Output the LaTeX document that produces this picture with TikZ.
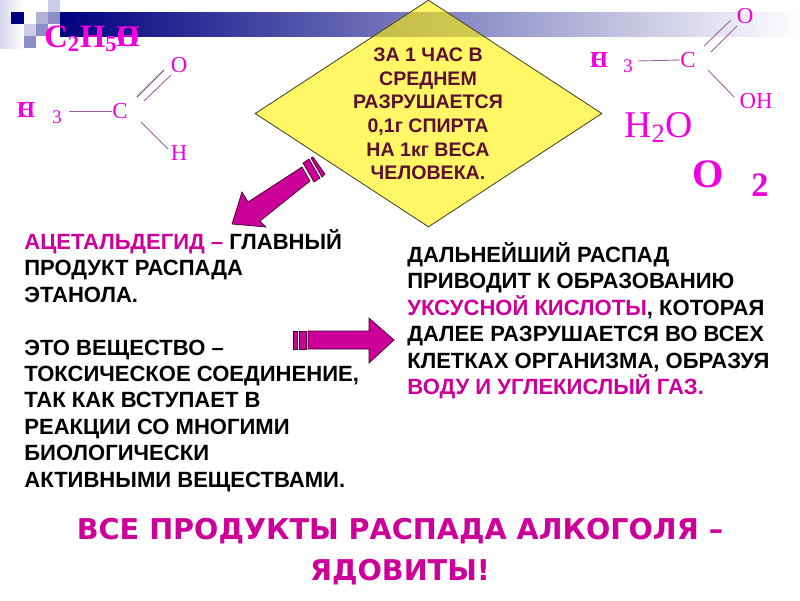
\documentclass[tikz,border=0pt]{standalone}
\usepackage{fontspec}
\usepackage{xcolor}
\usetikzlibrary{arrows.meta, positioning, shapes.geometric}
\setmainfont{Liberation Sans}
\newfontfamily\chemfont{Liberation Serif}
\newfontfamily\widefont{DejaVu Sans}
\definecolor{barnavy}{HTML}{000080}
\definecolor{pinkchem}{HTML}{F000E0}
\definecolor{arrowpink}{HTML}{CC0099}
\definecolor{rulemaroon}{HTML}{5C0F2E}
\definecolor{bondpurple}{HTML}{A060A0}
\begin{document}
\begin{tikzpicture}[x=0.02cm, y=-0.02cm,
    txtblock/.style={anchor=north west, align=left, inner sep=0pt,
                     font=\fontsize{12.55pt}{15.05pt}\selectfont\bfseries, text=black},
    chem/.style={inner sep=0pt, text=pinkchem, font=\fontsize{13pt}{13pt}\selectfont\chemfont},
    chembold/.style={chem, font=\fontsize{13pt}{13pt}\selectfont\chemfont\bfseries},
    bondline/.style={draw=bondpurple, line width=0.5pt},
    pale/.style={fill=barnavy!20},
    mid/.style={fill=barnavy!30},
    darker/.style={fill=barnavy!45},
    bigarrow/.style={fill=arrowpink, draw=black!70!arrowpink, line width=0.4pt}
  ]
  \useasboundingbox (0,0) rectangle (800,600);

  % Title bar and squares
  \shade[left color=barnavy, right color=white] (60,12) rectangle (800,36);
  \shade[left color=barnavy!15, right color=white] (0,0) rectangle (24,48);
  \fill[barnavy] (11,12) rectangle (24,24);
  \fill[mid] (36,12) rectangle (48,24);
  \fill[pale] (48,0) rectangle (60,12);
  \fill[darker] (48,12) rectangle (60,24);
  \fill[pale] (24,24) rectangle (36,36);
  \fill[darker] (36,24) rectangle (48,36);
  \fill[darker] (24,36) rectangle (36,48);

  % Ethanol
  \node[chembold, anchor=base west, font=\fontsize{18.5pt}{18.5pt}\selectfont\chemfont\bfseries] (ethanol) at (44,47) {C\textsubscript{2}H\textsubscript{5}};
  \node[chembold, font=\fontsize{17pt}{17pt}\selectfont\chemfont\bfseries] (ethanolo) at (128,37) {O};
  \node[chembold, font=\fontsize{17pt}{17pt}\selectfont\chemfont\bfseries] (ethanolh) at (128,37) {H};

  % Acetaldehyde
  \node[chembold] (cleftover) at (26,110) {C};
  \node[chembold] (hleft) at (26,110) {H};
  \node[chem, font=\fontsize{11pt}{11pt}\selectfont\chemfont] (threeleft) at (57,117) {3};
  \node[chem] (cleft) at (120,111) {C};
  \node[chem] (oleft) at (179,65) {O};
  \node[chem] (hlow) at (179,153) {H};
  \draw[bondline] (threeleft.east) ++(7,-6) -- (cleft.west);
  \draw[bondline, draw=bondpurple!60!black] (137,97) -- (164,70);
  \draw[bondline] (144,101) -- (171,75);
  \draw[bondline] (141,122) -- (168,149);

  % Acetic acid
  \node[chembold] (crightover) at (599,60) {C};
  \node[chembold] (hright) at (599,60) {H};
  \node[chem, font=\fontsize{11pt}{11pt}\selectfont\chemfont] (threeright) at (628,66) {3};
  \node[chem] (cright) at (688,60) {C};
  \node[chem] (oright) at (745,16) {O};
  \node[chem] (ohright) at (756,101) {OH};
  \draw[bondline] (threeright.east) ++(5,-5) -- (cright.west);
  \draw[bondline] (704,46) -- (731,20);
  \draw[bondline] (711,52) -- (737,26);
  \draw[bondline] (708,70) -- (734,97);

  % Water and oxygen
  \node[chem, anchor=base west, font=\fontsize{21.5pt}{21.5pt}\selectfont\chemfont] (water) at (624,137) {H\textsubscript{2}O};
  \node[chem, anchor=base, font=\fontsize{23pt}{23pt}\selectfont\chemfont\bfseries] (oxy) at (708,187) {O};
  \node[chem, anchor=base, font=\fontsize{19.5pt}{19.5pt}\selectfont\chemfont\bfseries] (oxytwo) at (760,196) {2};

  % Diamond
  \node[diamond, draw=black!60!olive, fill=yellow, fill opacity=0.6, line width=0.5pt,
        minimum width=6.94cm, minimum height=4.54cm, inner sep=0pt, aspect=1.53] (rule) at (428.5,113.5) {};
  \node[inner sep=0pt, align=center, font=\fontsize{11.15pt}{13.4pt}\selectfont\bfseries, text=rulemaroon] (ruletext) at (428,114)
    {ЗА 1 ЧАС В\\СРЕДНЕМ\\РАЗРУШАЕТСЯ\\0,1г СПИРТА\\НА 1кг ВЕСА\\ЧЕЛОВЕКА.};

  % Arrows
  \draw[bigarrow] (302,167) -- (248,202) -- (242,192) -- (232,224) -- (266,227) -- (260,221) -- (310,181) -- cycle;
  \draw[bigarrow] (303,163) -- (309,159) -- (320,178) -- (314,182) -- cycle;
  \draw[bigarrow] (311,158) -- (313,157) -- (325,174) -- (322,177) -- cycle;
  \draw[bigarrow] (308,331) -- (369,331) -- (369,318) -- (394,340) -- (369,363) -- (369,349) -- (308,349) -- cycle;
  \draw[bigarrow] (293,331) rectangle (297,349);
  \draw[bigarrow] (299,331) rectangle (306,349);

  % Text blocks
  \node[txtblock] (acet) at (24,229) {\textcolor{arrowpink}{АЦЕТАЛЬДЕГИД –} ГЛАВНЫЙ\\ПРОДУКТ РАСПАДА\\ЭТАНОЛА.\\[15.05pt]ЭТО ВЕЩЕСТВО –\\ТОКСИЧЕСКОЕ СОЕДИНЕНИЕ,\\ТАК КАК ВСТУПАЕТ В\\РЕАКЦИИ СО МНОГИМИ\\БИОЛОГИЧЕСКИ\\АКТИВНЫМИ ВЕЩЕСТВАМИ.};
  \node[txtblock] (decay) at (407,242) {ДАЛЬНЕЙШИЙ РАСПАД\\ПРИВОДИТ К ОБРАЗОВАНИЮ\\\textcolor{arrowpink}{УКСУСНОЙ КИСЛОТЫ}, КОТОРАЯ\\ДАЛЕЕ РАЗРУШАЕТСЯ ВО ВСЕХ\\КЛЕТКАХ ОРГАНИЗМА, ОБРАЗУЯ\\\textcolor{arrowpink}{ВОДУ И УГЛЕКИСЛЫЙ ГАЗ.}};
  \node[inner sep=0pt, align=center, text=arrowpink, font=\fontsize{16.3pt}{23.2pt}\selectfont\widefont\bfseries] (warning) at (400,551.5) {ВСЕ ПРОДУКТЫ РАСПАДА АЛКОГОЛЯ –\\ЯДОВИТЫ!};
\end{tikzpicture}
\end{document}
